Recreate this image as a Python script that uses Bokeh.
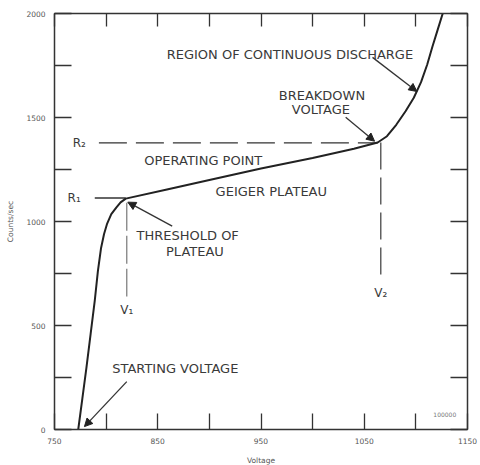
from bokeh.plotting import figure
from bokeh.models import (LinearAxis, FixedTicker, Arrow, NormalHead,
                          ColumnDataSource, Range1d)
from bokeh.core.properties import value
from bokeh.embed import file_html
from bokeh.resources import INLINE

# ---- data ----
curve_voltage = [773, 777, 781, 785, 789, 792, 795, 798, 801, 805, 810, 814, 819,
                 860, 900, 950, 1000, 1040, 1063, 1072, 1081, 1090, 1098, 1105,
                 1111, 1116, 1121, 1126]
curve_counts = [0, 150, 300, 460, 620, 760, 870, 940, 990, 1035, 1068, 1092, 1110,
                1155, 1200, 1255, 1305, 1350, 1380, 1410, 1465, 1530, 1595, 1670,
                1755, 1840, 1920, 2000]

x_major = [750, 850, 950, 1050, 1150]
x_minor = [800, 900, 1000, 1100]
y_major = [0, 500, 1000, 1500, 2000]
y_minor = [250, 750, 1250, 1750]

V1 = 820
V2 = 1066
R1 = 1113
R2 = 1378

label_text = ["REGION OF CONTINUOUS DISCHARGE", "BREAKDOWN", "VOLTAGE",
              "OPERATING POINT", "GEIGER PLATEAU", "THRESHOLD OF", "PLATEAU",
              "STARTING VOLTAGE"]
label_x = [978, 1009, 1008, 894, 960, 879, 886, 867]
label_y = [1803, 1607, 1540, 1295, 1146, 935, 854, 293]

sym_text = ["R\u2082", "R\u2081", "V\u2081", "V\u2082"]
sym_x = [774, 769, V1, V2]
sym_y = [R2, R1, 575, 655]

arrow_x0 = [1058, 1032, 864, 820]
arrow_y0 = [1789, 1501, 978, 230]
arrow_x1 = [1101, 1060, 821, 779]
arrow_y1 = [1625, 1386, 1093, 14]

r2_line_x = [793, 1063]
r1_line_x = [789, 819]
v1_line_y = [1090, 640]
v2_line_y = [1380, 740]

fig_no = "100000"
fig_no_x = 1128
fig_no_y = 72

# ---- figure ----
p = figure(x_range=Range1d(750, 1150), y_range=Range1d(0, 2000),
           frame_width=413, frame_height=416,
           min_border_left=54, min_border_right=12,
           min_border_top=13, min_border_bottom=35,
           x_axis_type=None, y_axis_type=None,
           toolbar_location=None, output_backend="svg")
p.grid.visible = False
p.outline_line_color = "#333333"
p.background_fill_color = "white"
p.border_fill_color = "white"

AX = "#333333"
LBL = "#555555"


def style_axis(ax, tick_len, show_labels):
    ax.axis_line_color = AX
    ax.axis_line_width = 1.5
    ax.major_tick_line_color = AX
    ax.minor_tick_line_color = AX
    ax.major_tick_line_width = 1.3
    ax.minor_tick_line_width = 1.3
    ax.major_tick_in = tick_len
    ax.major_tick_out = 0
    ax.minor_tick_in = tick_len
    ax.minor_tick_out = 0
    ax.major_label_text_font = "DejaVu Sans"
    ax.major_label_text_font_size = "7.5px"
    ax.major_label_text_color = LBL
    ax.axis_label_text_font = "DejaVu Sans"
    ax.axis_label_text_font_size = "7.5px"
    ax.axis_label_text_font_style = "normal"
    ax.axis_label_text_color = LBL
    if not show_labels:
        ax.major_label_text_font_size = "0px"
        ax.major_label_standoff = 0


xb = LinearAxis(ticker=FixedTicker(ticks=x_major, minor_ticks=x_minor),
                axis_label="Voltage")
style_axis(xb, 16, True)
xb.major_label_standoff = 8
xb.axis_label_standoff = 9
p.add_layout(xb, "below")

xt = LinearAxis(ticker=FixedTicker(ticks=x_major, minor_ticks=x_minor))
style_axis(xt, 13, False)
xt.major_label_overrides = {t: "" for t in x_major}
p.add_layout(xt, "above")

yl = LinearAxis(ticker=FixedTicker(ticks=y_major, minor_ticks=y_minor),
                axis_label="Counts/sec")
style_axis(yl, 17, True)
yl.major_label_standoff = 9
yl.axis_label_standoff = 8
p.add_layout(yl, "left")

yr = LinearAxis(ticker=FixedTicker(ticks=y_major, minor_ticks=y_minor))
style_axis(yr, 17, False)
yr.major_label_overrides = {t: "" for t in y_major}
p.add_layout(yr, "right")

# reference lines
p.line(r2_line_x, [R2, R2], line_color="#333333", line_width=1.4, line_dash="28 9")
p.line(r1_line_x, [R1, R1], line_color="#333333", line_width=1.3)
p.line([V1, V1], v1_line_y, line_color="#777777", line_width=1.2, line_dash="28 5")
p.line([V2, V2], v2_line_y, line_color="#555555", line_width=1.4, line_dash="27 8")

# characteristic curve
p.line(curve_voltage, curve_counts, line_color="#222222", line_width=2,
       line_join="round")

# arrows
asrc = ColumnDataSource(dict(x0=arrow_x0, y0=arrow_y0, x1=arrow_x1, y1=arrow_y1))
p.add_layout(Arrow(end=NormalHead(size=8, fill_color="#222222", line_color="#222222"),
                   x_start="x0", y_start="y0", x_end="x1", y_end="y1",
                   source=asrc, line_color="#333333", line_width=1.3))

# labels
lsrc = ColumnDataSource(dict(x=label_x, y=label_y, t=label_text))
p.text(x="x", y="y", text="t", source=lsrc, text_font=value("DejaVu Sans"),
       text_font_size=value("13px"), text_align="center", text_baseline="middle",
       text_color="#3a3a3a")

ssrc = ColumnDataSource(dict(x=sym_x, y=sym_y, t=sym_text))
p.text(x="x", y="y", text="t", source=ssrc, text_font=value("DejaVu Sans"),
       text_font_size=value("12px"), text_align="center", text_baseline="middle",
       text_color="#3a3a3a")

p.text(x=[fig_no_x], y=[fig_no_y], text=[fig_no], text_font=value("DejaVu Sans"),
       text_font_size=value("6px"), text_align="center", text_baseline="middle",
       text_color="#777777")

open("out.html", "w").write(file_html(p, INLINE))
